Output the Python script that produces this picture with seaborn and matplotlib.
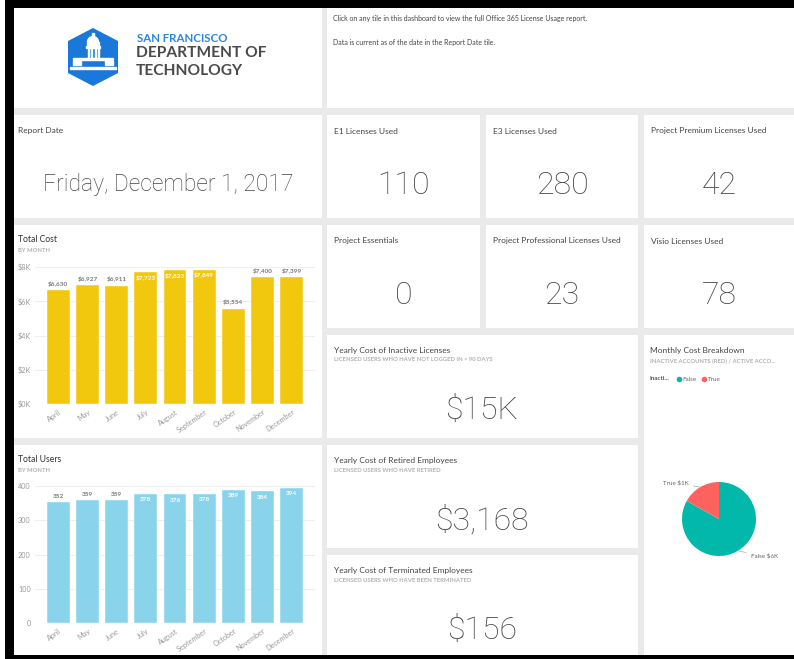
import matplotlib
matplotlib.use("Agg")
import matplotlib.pyplot as plt
import seaborn as sns
import pandas as pd
import numpy as np
from matplotlib.patches import Rectangle, Polygon, Wedge
from matplotlib.lines import Line2D

W, H = 794, 659

# data
months = ['April', 'May', 'June', 'July', 'August', 'September', 'October', 'November', 'December']
total_cost = [6630, 6927, 6911, 7723, 7823, 7849, 5554, 7400, 7399]
total_users = [352, 359, 359, 378, 376, 378, 389, 384, 394]
cost_ticks = [0, 2000, 4000, 6000, 8000]
cost_tick_labels = ['$0K', '$2K', '$4K', '$6K', '$8K']
user_ticks = [0, 100, 200, 300, 400]
report_date = 'Friday, December 1, 2017'
license_titles = ['E1 Licenses Used', 'E3 Licenses Used', 'Project Premium Licenses Used',
                  'Project Essentials', 'Project Professional Licenses Used', 'Visio Licenses Used']
license_values = ['110', '280', '42', '0', '23', '78']
cost_titles = ['Yearly Cost of Inactive Licenses', 'Yearly Cost of Retired Employees',
               'Yearly Cost of Terminated Employees']
cost_subtitles = ['LICENSED USERS WHO HAVE NOT LOGGED IN > 90 DAYS', 'LICENSED USERS WHO HAVE RETIRED',
                  'LICENSED USERS WHO HAVE BEEN TERMINATED']
cost_values = ['$15K', '$3,168', '$156']
breakdown_labels = ['False', 'True']
breakdown_values = [6149, 1250]
breakdown_text = ['False $6K', 'True $1K']

YELLOW = '#F2C80F'
BLUE = '#8AD4EB'
TEAL = '#01B8AA'
RED = '#FD625E'
BIG_FONT = ['Roboto', 'DejaVu Sans']
SMALL_FONT = ['Lato', 'DejaVu Sans']

sns.set_style('white')
plt.rcParams['font.family'] = SMALL_FONT

fig = plt.figure(figsize=(W / 100, H / 100), dpi=100, facecolor='#eaeaea')


def box(x0, y0, x1, y1):
    return [x0 / W, 1 - y1 / H, (x1 - x0) / W, (y1 - y0) / H]


def rect(x0, y0, x1, y1, color, z=-1):
    b = box(x0, y0, x1, y1)
    fig.add_artist(Rectangle((b[0], b[1]), b[2], b[3], transform=fig.transFigure,
                             facecolor=color, edgecolor='none', zorder=z))


def txt(x, y, s, **kw):
    kw.setdefault('va', 'center')
    kw.setdefault('color', '#333333')
    return fig.text(x / W, 1 - y / H, s, **kw)


# frame
rect(0, 0, 5, H, 'white', -2)
rect(5, 0, W, 8, 'black', -2)
rect(5, 0, 14, H, 'black', -2)
rect(5, 655, W, H, 'black', -2)

# tiles
tiles = [(14, 8, 322, 108), (327, 8, W, 108),
         (14, 115, 322, 218), (327, 115, 480, 218), (486, 115, 638, 218), (644, 115, W, 218),
         (14, 225, 322, 438), (327, 225, 480, 328), (486, 225, 638, 328), (644, 225, W, 328),
         (327, 335, 638, 438), (644, 335, W, 655),
         (14, 445, 322, 655), (327, 445, 638, 548), (327, 555, 638, 655)]
for t in tiles:
    rect(*t, 'white')

# logo
logo = fig.add_axes(box(60, 20, 126, 94))
logo.set_xlim(60, 126)
logo.set_ylim(94, 20)
logo.axis('off')
logo.add_patch(Polygon([(93, 28), (118, 41), (118, 73), (93, 86), (68, 73), (68, 41)],
                       closed=True, facecolor='#1A78D8', edgecolor='none'))
logo.add_patch(Rectangle((92.4, 33), 1.2, 3, color='white'))
logo.add_patch(Wedge((93, 42), 5.5, 180, 360, color='white'))
logo.add_patch(Rectangle((87, 42), 12, 3, color='white'))
logo.add_patch(Rectangle((86, 46), 14, 2, color='white'))
for cx in [88, 91, 95, 98]:
    logo.add_patch(Rectangle((cx, 48), 1.3, 10, color='white'))
logo.add_patch(Rectangle((73, 58), 40, 1.6, color='white'))
for cx in [74, 77, 80, 106, 109, 112]:
    logo.add_patch(Rectangle((cx - 0.6, 61), 1.2, 4, color='white'))
logo.add_patch(Rectangle((70, 67), 46, 1.8, color='white'))
txt(137, 38, 'SAN FRANCISCO', fontsize=8.3, color='#2A86E0', fontweight='bold')
txt(136, 53, 'DEPARTMENT OF', fontsize=11.2, color='#4A4A4A', fontweight='bold')
txt(136, 71, 'TECHNOLOGY', fontsize=11.2, color='#4A4A4A', fontweight='bold')

txt(333, 18, 'Click on any tile in this dashboard to view the full Office 365 License Usage report.',
    fontsize=5, color='#444444')
txt(333, 42, 'Data is current as of the date in the Report Date tile.', fontsize=5, color='#444444')

# report date card
txt(18, 131, 'Report Date', fontsize=6, color='#444444')
txt(168, 184, report_date, fontsize=16.5, family=BIG_FONT, fontweight='light', color='#444444',
    ha='center')

# license cards
card_boxes = [(327, 115, 480, 218), (486, 115, 638, 218), (644, 115, W, 218),
              (327, 225, 480, 328), (486, 225, 638, 328), (644, 225, W, 328)]
for (x0, y0, x1, y1), title, val in zip(card_boxes, license_titles, license_values):
    txt(x0 + 7, y0 + 16, title, fontsize=6, color='#444444')
    txt((x0 + x1) / 2, y0 + 71, val, fontsize=23, family=BIG_FONT, fontweight='light',
        color='#444444', ha='center')

# yearly cost cards
for y0, title, sub, val in zip([335, 445, 555], cost_titles, cost_subtitles, cost_values):
    txt(334, y0 + 15, title, fontsize=6, color='#444444')
    txt(334, y0 + 25, sub, fontsize=4.2, color='#b0b0b0', fontweight='bold')
    txt(482, y0 + 75, val, fontsize=23, family=BIG_FONT, fontweight='light', color='#444444',
        ha='center')


def month_bars(ax, values, color, ticks, tick_labels, fmt):
    df = pd.DataFrame({'month': months, 'value': values})
    sns.barplot(data=df, x='month', y='value', color=color, saturation=1, width=0.78,
                edgecolor='white', linewidth=0.3, ax=ax)
    ymax = ticks[-1]
    ax.set_ylim(0, ymax)
    ax.set_xlim(-0.8, 8.8)
    ax.set_yticks(ticks)
    ax.set_yticklabels(tick_labels)
    ax.set_xlabel('')
    ax.set_ylabel('')
    ax.yaxis.grid(True, color='#eeeeee', linewidth=0.8)
    ax.set_axisbelow(True)
    sns.despine(ax=ax, left=True, bottom=True)
    ax.tick_params(axis='both', length=0, labelsize=5.2, labelcolor='#9a9a9a', pad=3)
    for lab in ax.get_xticklabels():
        lab.set_rotation(35)
        lab.set_ha('right')
        lab.set_rotation_mode('anchor')
    for i, v in enumerate(values):
        if v / ymax > 0.93:
            ax.text(i, v - ymax * 0.025, fmt(v), ha='center', va='top', fontsize=4.6,
                    color='white', fontweight='bold')
        else:
            ax.text(i, v + ymax * 0.025, fmt(v), ha='center', va='bottom', fontsize=4.6,
                    color='#777777', fontweight='bold')


# total cost chart
txt(18, 240, 'Total Cost', fontsize=6.2, color='#333333')
txt(18, 251, 'BY MONTH', fontsize=4.2, color='#b0b0b0', fontweight='bold')
ax1 = fig.add_axes(box(35, 267, 315, 404))
ax1.set_facecolor('white')
month_bars(ax1, total_cost, YELLOW, cost_ticks, cost_tick_labels, lambda v: f'${v:,}')

# total users chart
txt(18, 460, 'Total Users', fontsize=6.2, color='#333333')
txt(18, 470, 'BY MONTH', fontsize=4.2, color='#b0b0b0', fontweight='bold')
ax2 = fig.add_axes(box(35, 486, 315, 623))
ax2.set_facecolor('white')
month_bars(ax2, total_users, BLUE, user_ticks, [str(t) for t in user_ticks], lambda v: f'{v}')

# monthly cost breakdown pie
txt(650, 350, 'Monthly Cost Breakdown', fontsize=6, color='#444444')
txt(650, 361, 'INACTIVE ACCOUNTS (RED) / ACTIVE ACCO...', fontsize=4.2, color='#b0b0b0',
    fontweight='bold')
txt(650, 379, 'Inacti...', fontsize=4.5, color='#555555', fontweight='bold')
handles = [Line2D([], [], marker='o', linestyle='none', markersize=4, markerfacecolor=c,
                  markeredgecolor='none') for c in [TEAL, RED]]
fig.legend(handles, breakdown_labels, loc='center left', bbox_to_anchor=(676 / W, 1 - 379 / H),
           ncol=2, frameon=False, fontsize=4.5, labelcolor='#666666', handlelength=0.8,
           handletextpad=0.2, columnspacing=0.8, borderaxespad=0, borderpad=0)

ax3 = fig.add_axes(box(719 - 37, 519 - 37, 719 + 37, 519 + 37))
wedges, _ = ax3.pie(breakdown_values, colors=[TEAL, RED], startangle=90, counterclock=False,
                    radius=1, wedgeprops=dict(linewidth=0))
ax3.set_xlim(-1, 1)
ax3.set_ylim(-1, 1)
ax3.set_aspect('equal')
ax3.axis('off')
for w, label, tx, ty, ha in zip(wedges, breakdown_text, [0.86, -0.82], [-1.0, 0.97], ['left', 'right']):
    ang = np.deg2rad((w.theta1 + w.theta2) / 2)
    px, py = np.cos(ang), np.sin(ang)
    ax3.annotate(label, xy=(px, py), xytext=(tx, ty), ha=ha, va='center', fontsize=4.5,
                 color='#666666', annotation_clip=False,
                 arrowprops=dict(arrowstyle='-', color='#aaaaaa', lw=0.5, shrinkA=1, shrinkB=0))

fig.savefig('out.png', dpi=100, facecolor=fig.get_facecolor())
